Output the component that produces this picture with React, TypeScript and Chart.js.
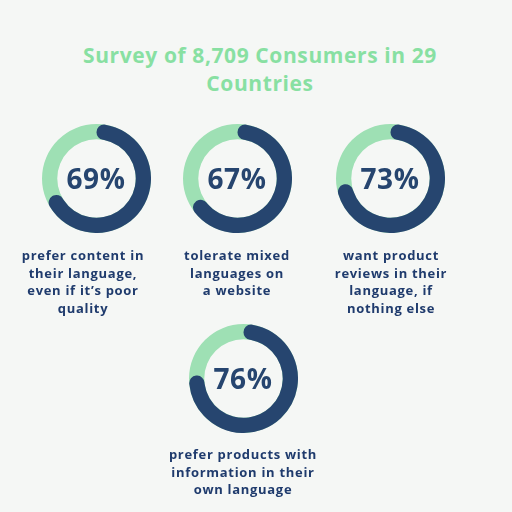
import React, { useEffect, useRef } from 'react';
import { Chart, ChartConfiguration } from 'chart.js/auto';

// survey results, one ring each
const percents = [69, 67, 73, 76];
const captions = [
  ['prefer content in', 'their language,', 'even if it\u2019s poor', 'quality'],
  ['tolerate mixed', 'languages on', 'a website'],
  ['want product', 'reviews in their', 'language, if', 'nothing else'],
  ['prefer products with', 'information in their', 'own language'],
];
const titleLines = ['Survey of 8,709 Consumers in 29', 'Countries'];

const DARK = '#26456f';
const LIGHT = '#9ee0b4';
const TITLE_GREEN = '#88e0a2';
const TEXT_NAVY = '#1f3b6d';
const BG = '#f5f7f5';
const FONT = '"Open Sans", "DejaVu Sans", sans-serif';

// ring centres and caption centres
const ringPos = [
  { x: 96, y: 178 },
  { x: 237, y: 178 },
  { x: 390, y: 178 },
  { x: 243, y: 378 },
];
const captionPos = [
  { x: 83, y: 247 },
  { x: 237, y: 247 },
  { x: 391, y: 247 },
  { x: 243, y: 446 },
];
const RING = 109;

const RingChart: React.FC<{ values: number[]; colors: string[]; rounded: boolean }> = ({ values, colors, rounded }) => {
  const chartRef = useRef<HTMLCanvasElement>(null);
  const chartInstanceRef = useRef<Chart | null>(null);

  useEffect(() => {
    if (!chartRef.current) return;
    const ctx = chartRef.current.getContext('2d');
    if (!ctx) return;
    if (chartInstanceRef.current) chartInstanceRef.current.destroy();

    const chartConfig: ChartConfiguration = {
      type: 'doughnut',
      data: {
        labels: values.map((_, i) => String(i)),
        datasets: [{
          data: values,
          backgroundColor: colors,
          borderWidth: 0,
          borderRadius: rounded ? 8 : 0,
        }]
      },
      options: {
        responsive: false,
        animation: false,
        events: [],
        cutout: '72%',
        rotation: 0,
        plugins: {
          legend: { display: false },
          tooltip: { enabled: false }
        },
        layout: { padding: 0 }
      } as any
    };

    chartInstanceRef.current = new Chart(ctx, chartConfig);
    return () => {
      if (chartInstanceRef.current) {
        chartInstanceRef.current.destroy();
        chartInstanceRef.current = null;
      }
    };
  }, [values, colors, rounded]);

  return <canvas ref={chartRef} width={RING} height={RING} style={{ position: 'absolute', left: 0, top: 0, width: RING, height: RING }}></canvas>;
};

const App: React.FC = () => {
  return (
    <div style={{ position: 'fixed', left: 0, top: 0, width: 512, height: 512, background: BG, fontFamily: FONT, overflow: 'hidden' }}>
      <div style={{ position: 'absolute', left: 60, width: 400, top: 41, textAlign: 'center', color: TITLE_GREEN, fontWeight: 700, fontSize: 21, lineHeight: '28px', letterSpacing: 0.6 }}>
        {titleLines.map((t, i) => <div key={i}>{t}</div>)}
      </div>
      {percents.map((p, i) => (
        <div key={i} style={{ position: 'absolute', left: ringPos[i].x - RING / 2, top: ringPos[i].y - RING / 2, width: RING, height: RING }}>
          <RingChart values={[100]} colors={[LIGHT]} rounded={false} />
          <RingChart values={[p, 100 - p]} colors={[DARK, 'rgba(0,0,0,0)']} rounded={true} />
          <div style={{ position: 'absolute', left: 0, top: 0, width: RING, height: RING, lineHeight: RING + 'px', textAlign: 'center', color: DARK, fontWeight: 700, fontSize: 28, letterSpacing: 0.5 }}>
            {p}%
          </div>
        </div>
      ))}
      {captions.map((lines, i) => (
        <div key={i} style={{ position: 'absolute', left: captionPos[i].x - 90, width: 180, top: captionPos[i].y, textAlign: 'center', color: TEXT_NAVY, fontWeight: 700, fontSize: 13, lineHeight: '17.5px', letterSpacing: 0.7 }}>
          {lines.map((t, j) => <div key={j}>{t}</div>)}
        </div>
      ))}
    </div>
  );
};

export default App;
